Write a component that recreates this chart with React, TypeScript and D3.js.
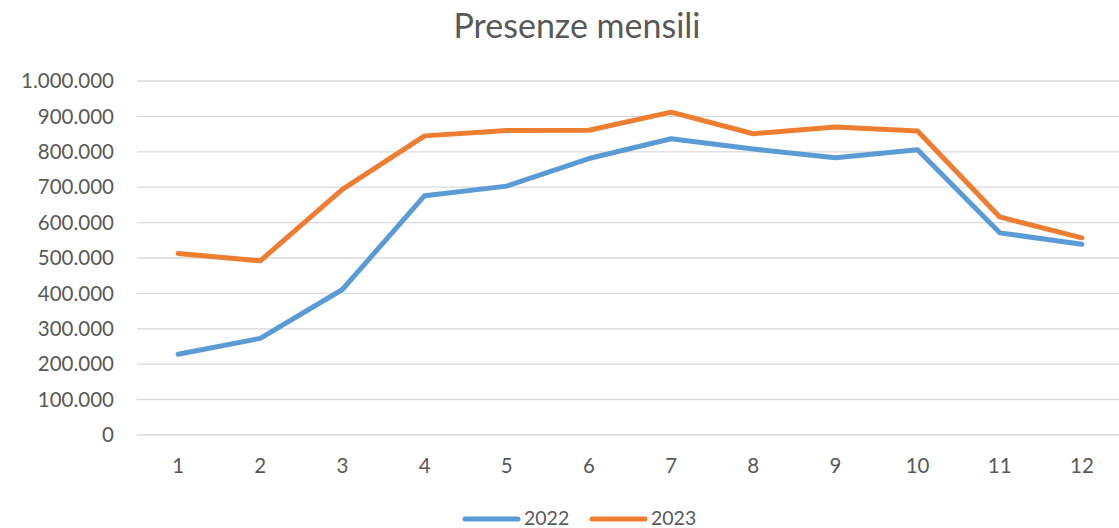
import React from "react";
import * as d3 from "d3";

const months = ["1", "2", "3", "4", "5", "6", "7", "8", "9", "10", "11", "12"];
const values2022 = [228000, 273000, 411000, 676000, 703000, 781000, 837000, 808000, 783000, 806000, 571000, 539000];
const values2023 = [513000, 492000, 694000, 845000, 860000, 861000, 912000, 851000, 870000, 859000, 616000, 557000];
const yTicks = [0, 100000, 200000, 300000, 400000, 500000, 600000, 700000, 800000, 900000, 1000000];
const seriesNames = ["2022", "2023"];
const title = "Presenze mensili";

const W = 1119;
const H = 528;
const FONT = "Lato, 'Liberation Sans', sans-serif";
const TEXT = "#595959";
const GRID = "#D9D9D9";
const COLORS = ["#5B9BD5", "#ED7D31"];

const fmt = (v: number) => (v === 0 ? "0" : d3.format(",")(v).replace(/,/g, "."));

export default function App() {
  const x = d3.scaleBand<string>().domain(months).range([137, 1123]);
  const y = d3.scaleLinear().domain([0, 1000000]).range([435, 81]);
  const cx = (m: string) => (x(m) as number) + x.bandwidth() / 2;
  const line = d3
    .line<number>()
    .x((_, i) => cx(months[i]))
    .y((d) => y(d));
  const series = [values2022, values2023];

  return (
    <svg
      width={W}
      height={H}
      style={{ position: "absolute", left: 0, top: 0, background: "#fff" }}
      fontFamily={FONT}
    >
      <text x={577} y={38} textAnchor="middle" fontSize={34} fill={TEXT}>
        {title}
      </text>
      {yTicks.map((t) => (
        <g key={t}>
          <line x1={137} x2={1123} y1={y(t)} y2={y(t)} stroke={GRID} strokeWidth={1.3} />
          <text x={114} y={y(t)} dy="0.35em" textAnchor="end" fontSize={20.5} fill={TEXT}>
            {fmt(t)}
          </text>
        </g>
      ))}
      {months.map((m) => (
        <text key={m} x={cx(m)} y={466} dy="0.35em" textAnchor="middle" fontSize={20.5} fill={TEXT}>
          {m}
        </text>
      ))}
      {series.map((s, i) => (
        <path
          key={i}
          d={line(s) as string}
          fill="none"
          stroke={COLORS[i]}
          strokeWidth={5}
          strokeLinejoin="round"
          strokeLinecap="round"
        />
      ))}
      {seriesNames.map((n, i) => {
        const x0 = 465 + i * 127;
        return (
          <g key={n}>
            <line x1={x0} x2={x0 + 53} y1={519} y2={519} stroke={COLORS[i]} strokeWidth={5} strokeLinecap="round" />
            <text x={x0 + 59} y={518} dy="0.35em" fontSize={19.5} fill={TEXT}>
              {n}
            </text>
          </g>
        );
      })}
    </svg>
  );
}
